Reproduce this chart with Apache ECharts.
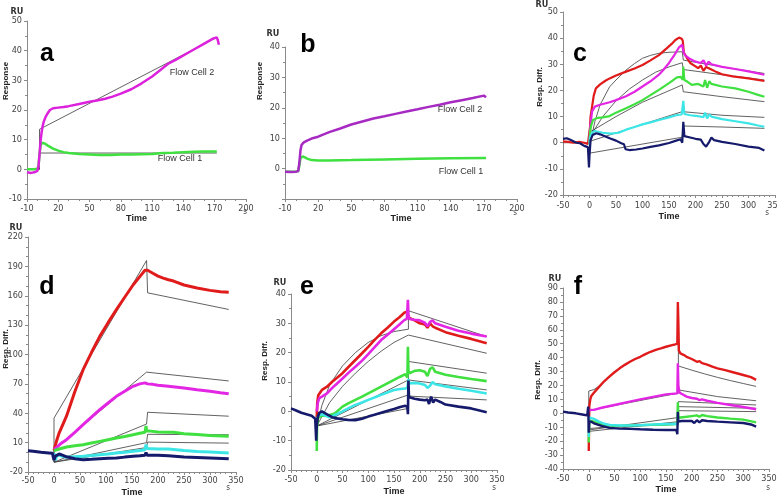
<!DOCTYPE html>
<html>
<head>
<meta charset="utf-8">
<script src="https://cdn.jsdelivr.net/npm/echarts@6/dist/echarts.min.js"></script>
<style>
  html, body { margin: 0; background: #fff; }
  #chart { width: 778px; height: 497px; }
</style>
</head>
<body>
<div id="chart"></div>
<script>
// ---- panel a : flow cells ----
const aCell2 = [[-10,-1],[-6,-1.2],[-3,-1],[0,-0.5],[1,1],[2,5],[3,9.5],[4,12.5],[5,14.5],[6,16],[8,17.8],[10,19],[12,20],[15,20.6],[20,20.8],[25,21],[30,21.3],[40,22],[50,22.8],[57,23.2],[65,23.8],[72,24.5],[80,25.5],[90,27],[100,29],[110,31.3],[117,33.2],[125,35.5],[133,37],[142,38.8],[150,40.4],[160,42.4],[168,44],[172,44.5],[173,43.5],[174,42]];
const aCell1 = [[-10,0],[-3,0],[0,0.2],[1,1],[2,5],[3,8],[4,9],[5,9],[7,8.7],[10,8],[15,7],[20,6.3],[25,5.8],[30,5.5],[40,5.2],[50,5],[60,4.8],[70,4.8],[80,5],[90,5],[100,5.1],[110,5.2],[120,5.5],[130,5.6],[140,5.8],[150,5.9],[160,6],[172,6]];
const aFit2 = [[-10,0],[2,0],[2,13.5],[172,44.5]];
const aFit1 = [[2,0],[2,5.5],[172,5.5]];

// ---- panel b : flow cells ----
const bCell2 = [[-10,-1],[-5,-1.1],[0,-1],[2,-0.8],[3,2],[4,6],[5,7.8],[7,8.6],[10,9.2],[15,10],[20,10.5],[30,12],[40,13.2],[50,14.5],[60,15.5],[70,16.5],[80,17.2],[90,18],[100,18.8],[110,19.5],[120,20.3],[130,21],[140,21.8],[150,22.5],[160,23.2],[170,24],[172,23.5]];
const bCell1 = [[-10,-1],[0,-1],[2,-0.8],[3,1],[4,3.5],[6,4],[8,3.7],[10,3.3],[14,2.8],[20,2.7],[30,2.7],[50,2.8],[80,3],[110,3.2],[140,3.4],[172,3.5]];

// ---- panel c ----
const cRed = [[-50,0.5],[-40,0.3],[-30,0],[-20,0.3],[-10,0],[-3,-0.5],[0,0],[1,6],[2,10],[5,14],[8,18],[12,20.8],[20,22.3],[30,23.7],[38,24.6],[50,25.7],[69,27.2],[85,28.4],[100,29.7],[115,31.5],[131,33.5],[145,36],[155,37.8],[162,39.3],[169,40.2],[174,39.8],[176,39],[178,34.5],[185,32],[190,30.5],[200,29.2],[205,28.5],[210,29.5],[215,27.5],[220,29],[225,28.5],[230,28],[240,27],[250,26.2],[270,25.4],[300,24.6],[330,23.6]];
const cMagenta = [[0,0],[1,5],[3,9],[5,12],[10,13.8],[20,14.5],[38,15.5],[50,16.3],[69,17.8],[85,19.5],[100,21.5],[115,23.5],[131,26],[140,28],[150,30.5],[160,33.5],[169,36.5],[175,37.5],[177,35],[180,33.5],[190,32],[200,31],[210,30.5],[215,31.5],[220,29.5],[225,31],[230,30],[250,29],[275,28.2],[300,27.3],[330,26]];
const cGreen = [[0,0],[1,4],[3,6.5],[6.6,8.7],[15,9.5],[25,9.7],[38,10.2],[50,11.5],[69,13.2],[85,14.7],[100,16.3],[115,18.2],[131,20.2],[150,22.8],[165,25],[172,25.2],[176,24],[177,29],[179,24],[185,23.3],[193,22.1],[205,22.5],[215,21.5],[218,24],[222,21],[226,23.5],[230,22.5],[250,21.5],[275,20.8],[300,19.5],[318,18.3],[330,17.6]];
const cCyan = [[0,-1],[1,2],[4,3.5],[10,4.5],[25,3.8],[40,3.5],[55,3.8],[69,5],[85,6],[100,7],[115,7.8],[131,8.7],[150,9.7],[165,10.6],[174,10.8],[176,11],[177,16],[179,11],[190,10.5],[200,10.3],[215,9.8],[218,11.5],[222,9.3],[226,10.8],[230,10],[250,9],[275,8.2],[300,7.4],[318,6.6],[330,6.1]];
const cNavy = [[-50,1.5],[-43,1.7],[-35,1],[-25,0],[-18,-0.2],[-10,-1.2],[-3,-1.7],[-1,-9.5],[0,-5],[2,1],[6,3],[13,3.6],[20,3.2],[30,2.4],[38,1.7],[50,0.8],[60,-0.2],[65,-0.6],[68,-2.5],[75,-2.8],[88,-2.6],[100,-2.2],[115,-1.6],[131,-1],[150,-0.1],[165,0.9],[172,1.3],[175,0],[177,8],[179,2.5],[190,2],[200,1.5],[210,1.2],[215,-0.5],[220,-1.5],[225,0],[230,2],[235,1],[250,0.3],[275,-0.5],[300,-1.5],[320,-2],[330,-3]];
const cFit1 = [[-50,0],[0,0],[0,-1.5],[10,8],[20,14.5],[38,21.4],[50,24],[69,27.8],[85,30.3],[100,32.3],[115,33.4],[131,34.2],[150,34.6],[175,34.8],[177,31.6],[250,29],[330,26.5]];
const cFit2 = [[0,2],[25,10],[50,16],[75,20.5],[100,24],[125,27],[150,29],[175,30.6],[177,28],[250,26],[330,24]];
const cFit3 = [[0,4],[50,10],[100,15.5],[175,22.1],[177,19.5],[250,17.6],[330,15.7]];
const cFit4 = [[0,0.5],[175,11.9],[177,11.2],[250,10.5],[330,9.7]];
const cFit5 = [[0,-4],[175,2.1],[177,6.4],[250,6],[330,5.5]];

// ---- panel d ----
const dRed = [[0,2],[2,6],[5,12],[10,20],[24,37],[40,62],[56,84.5],[72,102],[88,118.5],[104,132.5],[120,145.8],[136,158.5],[152,171],[165,179.5],[175,186],[178,187],[180,186],[190,183],[200,180],[210,178],[220,176.4],[230,175],[250,171],[275,168],[300,165.5],[320,164],[336,163.5]];
const dMagenta = [[0,3],[5,5],[12,8.5],[24,13],[40,20.5],[56,28.3],[72,36],[88,43.6],[104,50.5],[120,57.3],[136,62.5],[152,67.5],[165,70],[175,71],[180,70],[190,69.5],[200,68.5],[220,67.5],[250,65.8],[275,64],[300,62.4],[320,61],[336,60]];
const dGreen = [[0,1.8],[10,3.5],[24,5.5],[40,6.8],[56,7.9],[72,9.6],[88,11.3],[104,13],[120,14.7],[136,16.3],[152,18],[165,19.5],[175,20.5],[177,27],[178,22],[182,22],[200,20.8],[220,20.5],[230,20.5],[250,19],[275,18.2],[300,17.4],[336,16.4]];
const dCyan = [[0,-1],[3,-8],[5,-3],[10,-3],[24,-5],[40,-4.5],[56,-4],[72,-3.2],[88,-2.3],[104,-1.5],[120,-0.6],[136,0.2],[152,1.1],[165,2],[175,2.8],[177,8],[179,4],[200,3.5],[220,3.5],[250,2],[275,1],[300,0.4],[336,-0.6]];
const dNavy = [[-50,1.8],[-40,1.2],[-25,0.1],[-10,-0.5],[-3,-0.9],[-1,-1],[0,-8],[2,-4],[5,-2],[10,-1.6],[15,-2.5],[24,-4.5],[40,-6.5],[56,-7.4],[72,-7],[88,-6.4],[104,-6],[120,-5.7],[136,-4.8],[152,-4],[165,-3.5],[175,-3],[177,0],[179,-3],[190,-2.8],[200,-3],[220,-3.5],[250,-4.7],[275,-5.2],[300,-5.7],[336,-6.4]];
const dFit1 = [[0,-10],[0,35],[178,196],[180,163],[336,146]];
const dFit2 = [[0,-10],[0,3],[178,82],[336,73]];
const dFit3 = [[0,-10],[178,29],[180,41],[336,37]];
const dFit4 = [[0,-10],[178,10],[180,18.5],[336,18]];
const dFit5 = [[0,-10],[178,5],[180,10.5],[336,9.5]];

// ---- panel e ----
const eRed = [[0,-2],[1,3],[3,5.5],[10,7.3],[20,8.4],[30,10.1],[40,11.5],[50,13],[62,15.2],[75,17.5],[88,19.8],[100,22],[112,24.3],[125,26.6],[138,28.6],[150,30.6],[160,32],[170,33.6],[175,34],[178,32],[180,31.5],[190,31],[200,30],[210,29.6],[215,28.5],[220,30],[225,29],[230,28.5],[250,27],[275,25.8],[300,24.7],[330,23.2]];
const eMagenta = [[0,0],[2,3],[5,4.5],[10,5],[20,6.1],[30,8],[40,9.6],[50,11.2],[62,13.2],[75,15.2],[88,17.3],[100,19.5],[112,21.8],[125,24.3],[138,26.2],[150,28],[160,29.5],[170,31.1],[175,31.5],[177,38],[178,33],[180,31.5],[190,31.2],[200,31],[210,30.2],[215,29],[220,30.5],[225,31],[230,30],[250,28.8],[275,27.5],[300,26.5],[330,25.5]];
const eGreen = [[0,-13.5],[0.5,-5],[3,-2],[10,-1.5],[20,-1.5],[35,-0.7],[50,1.6],[62,2.8],[75,3.9],[88,5],[100,6.1],[112,7.2],[125,8.4],[138,9.6],[150,10.7],[162,11.8],[172,12.7],[176,11.5],[177,22],[178,14],[180,13],[190,13.8],[200,14],[210,13.5],[215,12],[220,14.5],[225,15],[230,13.5],[250,12.5],[275,11.7],[300,11],[330,10.3]];
const eCyan = [[0,-3],[3,-1.5],[10,-1],[25,-2],[40,-0.9],[50,0],[62,1.1],[75,2.2],[88,3],[100,3.9],[112,4.7],[125,5.6],[138,6.5],[150,7.3],[162,7.6],[172,7.8],[176,8],[178,11],[180,9.5],[190,9.7],[200,9.5],[210,9],[215,8],[220,8.7],[225,10],[230,9.2],[250,8.5],[275,7.7],[300,7],[330,6.1]];
const eNavy = [[-50,1],[-40,0.3],[-30,-0.5],[-20,-1],[-10,-1.5],[-3,-2.5],[-1,-10],[0,-5],[2,-2],[5,-0.5],[10,0],[20,-1],[30,-2],[40,-2.4],[50,-2.7],[60,-2.9],[75,-3],[88,-2.5],[100,-1.8],[112,-1.2],[125,-0.5],[138,0.2],[150,0.8],[162,1.5],[172,1.9],[176,1.5],[177,-1],[178,10.5],[179,5.5],[180,4.8],[190,4.3],[200,4],[210,3.8],[215,4],[218,2.5],[222,5],[226,3],[230,4],[240,3.2],[250,2.3],[275,1.6],[300,1],[330,-0.3]];
const eFit1 = [[0,-5],[10,2],[25,9],[50,15.5],[75,20],[100,23.5],[125,25.8],[150,27.2],[178,28],[178,34.3],[330,25.5]];
const eFit2 = [[0,-5],[25,3],[50,8.5],[75,13],[100,17],[125,20.5],[150,23.5],[178,26],[330,19.8]];
const eFit3 = [[0,-5],[178,10.7],[178,17],[330,13]];
const eFit4 = [[0,-5],[178,5.6],[178,10.7],[330,7.3]];
const eFit5 = [[0,-5],[178,1],[178,5.2],[330,3.9]];

// ---- panel f ----
const fRed = [[0,-27],[1,5],[3,10],[5,12.5],[10,14.8],[20,19],[30,23],[40,26.3],[50,29.5],[60,32.3],[70,34.8],[80,37],[90,39],[100,40.6],[110,42.5],[120,44.2],[130,45.5],[140,46.6],[150,47.8],[160,48.8],[168,49.5],[172,50],[173,80],[174,65],[175,45],[178,43],[184,42],[190,40.6],[200,39],[210,37],[215,37.5],[220,36],[230,35],[240,33.5],[250,32.3],[265,31],[280,29.5],[300,27.5],[315,26],[325,24]];
const fMagenta = [[0,2],[5,2.5],[10,2.5],[25,4],[50,6],[75,8],[100,10],[125,11.8],[150,13.6],[172,14.3],[173,36],[174,20],[176,15],[180,14],[190,12],[200,11],[210,10.5],[215,9.5],[220,10],[230,9],[250,7.5],[275,6],[300,4.5],[325,2.9]];
const fGreen = [[0,-21],[1,-5],[5,-5.5],[10,-6],[25,-8],[50,-9],[100,-8.5],[150,-8],[172,-7.5],[173,8],[174,-3],[178,-3],[190,-2.5],[200,-2],[210,-1.5],[215,-2.5],[220,-1.2],[230,-2],[250,-3],[275,-3.8],[300,-4.5],[325,-6.5]];
const fCyan = [[0,-17],[1,-3],[5,-3.5],[10,-4],[20,-6],[30,-7.5],[41,-8.4],[60,-8.8],[73,-8.8],[90,-8.6],[105,-8.4],[120,-8.1],[138,-7.9],[155,-7.7],[170,-7.6],[172,-8]];
const fNavy = [[-50,1.2],[-40,0.6],[-25,0],[-10,-1],[-3,-1.5],[-1,4.8],[0,-14],[1,-6],[5,-6],[10,-7.2],[25,-9],[40,-10.5],[60,-11],[80,-11.2],[100,-11.5],[125,-11.8],[150,-12],[170,-12],[172,-15],[173,1],[174,-6],[180,-5.5],[190,-5.5],[200,-5.5],[205,-7],[210,-5],[215,-6.5],[220,-5],[230,-5.5],[250,-6],[275,-6.5],[300,-7],[315,-8],[325,-9.6]];
const fFit1 = [[0,-10],[0,16],[10,17],[20,19.5],[30,23],[40,26.3],[60,32.3],[80,37],[100,40.6],[120,44.2],[140,46.6],[174,50],[174,34],[200,31],[225,28.3],[250,25.8],[275,23.5],[300,21.4],[325,19.3]];
const fFit2 = [[0,-10],[0,2],[174,14.5],[174,16.8],[250,12],[325,9]];
const fFit3 = [[0,-12],[174,-3],[174,8.4],[325,6]];
const fFit4 = [[0,-13],[174,-6],[174,4.8],[325,3.6]];
const fFit5 = [[0,-11],[30,-10],[174,-8],[174,1.9],[325,1.2]];

const RED = "#e01b1b", MAG = "#e326e3", GRN = "#3fe03f", CYN = "#3de6e6", NAVY = "#161a6b", FIT = "#3a3a3a";
const NARROW = "'Liberation Sans Narrow','DejaVu Sans Condensed',sans-serif";

// grid boxes and axis scales per panel: [min, max, interval, minor splits]
const panels = [
  { box: [27, 21, 219, 178],  x: [-10, 200, 30, 3], y: [-10, 50, 10, 2], lm: 5, gap: 14.5 },
  { box: [285, 47, 232, 152], x: [-10, 200, 30, 3], y: [-10, 40, 10, 2], lm: 5, gap: 14.5, hideMin: true },
  { box: [563, 12, 212, 183], x: [-50, 350, 50, 5], y: [-20, 50, 10, 2], lm: 6, gap: 17.5 },
  { box: [28, 237, 208, 235], x: [-50, 350, 50, 5], y: [-20, 220, 30, 3], lm: 4, gap: 16.5 },
  { box: [291, 294, 206, 176], x: [-50, 350, 50, 5], y: [-20, 40, 10, 2], lm: 5, gap: 17 },
  { box: [563, 288, 206, 181], x: [-50, 350, 50, 5], y: [-40, 90, 10, 2], lm: 5, gap: 16.5 }
];

const axisBase = {
  axisLine: { onZero: false, lineStyle: { color: "#8a8a8a", width: 1 } },
  axisTick: { length: 3, lineStyle: { color: "#8a8a8a" } },
  splitLine: { show: false },
  axisLabel: { color: "#444", fontSize: 9, fontFamily: NARROW }
};

const grid = panels.map(p => ({
  left: p.box[0], top: p.box[1], width: p.box[2], height: p.box[3],
  outerBoundsMode: "none", containLabel: false
}));

const xAxis = panels.map((p, i) => ({
  type: "value", gridIndex: i, min: p.x[0], max: p.x[1], interval: p.x[2],
  ...axisBase,
  minorTick: { show: true, splitNumber: p.x[3], length: 2, lineStyle: { color: "#8a8a8a" } },
  axisLabel: { ...axisBase.axisLabel, margin: p.lm },
  name: "Time", nameLocation: "middle", nameGap: p.gap,
  nameTextStyle: { fontSize: 9, fontWeight: "bold", color: "#222", fontFamily: "'Liberation Sans',Arial,sans-serif" }
}));

const yAxis = panels.map((p, i) => ({
  type: "value", gridIndex: i, min: p.y[0], max: p.y[1], interval: p.y[2],
  ...axisBase,
  minorTick: { show: true, splitNumber: p.y[3], length: 2, lineStyle: { color: "#8a8a8a" } },
  axisLabel: { ...axisBase.axisLabel, margin: 5, showMinLabel: !p.hideMin }
}));

function trace(data, color, i, width) {
  return {
    type: "line", data: data, xAxisIndex: i, yAxisIndex: i,
    showSymbol: false, smooth: false, silent: true,
    lineStyle: { color: color, width: width }
  };
}
function fit(data, i) {
  return trace(data, FIT, i, 0.8);
}

const series = [
  fit(aFit1, 0), fit(aFit2, 0),
  trace(aCell1, GRN, 0, 2.5), trace(aCell2, "#dc22dc", 0, 2.5),
  trace(bCell1, GRN, 1, 2.5), trace(bCell2, "#a72bc2", 1, 2.5),
  fit(cFit1, 2), fit(cFit2, 2), fit(cFit3, 2), fit(cFit4, 2), fit(cFit5, 2),
  trace(cRed, RED, 2, 2.2), trace(cMagenta, MAG, 2, 2.2), trace(cGreen, GRN, 2, 2.2),
  trace(cCyan, CYN, 2, 2.2), trace(cNavy, NAVY, 2, 2.2),
  fit(dFit1, 3), fit(dFit2, 3), fit(dFit3, 3), fit(dFit4, 3), fit(dFit5, 3),
  trace(dRed, RED, 3, 3), trace(dMagenta, MAG, 3, 3), trace(dGreen, GRN, 3, 3),
  trace(dCyan, CYN, 3, 3), trace(dNavy, NAVY, 3, 3),
  fit(eFit1, 4), fit(eFit2, 4), fit(eFit3, 4), fit(eFit4, 4), fit(eFit5, 4),
  trace(eRed, RED, 4, 2.6), trace(eMagenta, MAG, 4, 2.6), trace(eGreen, GRN, 4, 2.6),
  trace(eCyan, CYN, 4, 2.6), trace(eNavy, NAVY, 4, 2.6),
  fit(fFit1, 5), fit(fFit2, 5), fit(fFit3, 5), fit(fFit4, 5), fit(fFit5, 5),
  trace(fRed, RED, 5, 2.4), trace(fMagenta, MAG, 5, 2.4), trace(fGreen, GRN, 5, 2.4),
  trace(fCyan, CYN, 5, 2.4), trace(fNavy, NAVY, 5, 2.4)
];

// panel letters, unit labels and axis titles
const letters = [["a", 47, 42], ["b", 308, 33], ["c", 580, 42], ["d", 47, 275], ["e", 307, 275], ["f", 578, 275]];
const ruPos = [[17, 12], [273, 34], [542, 5], [16, 228], [280, 283], [555, 279]];
const secPos = [[245, 212], [515, 213], [767, 213], [228, 488], [494, 488], [768, 488]];
const yTitles = [["Response", 6, 81], ["Response", 260, 81], ["Resp. Diff.", 540, 87], ["Resp. Diff.", 6, 349], ["Resp. Diff.", 265, 361], ["Resp. Diff.", 538, 380]];
const cellLabels = [["Flow Cell 2", 192, 73], ["Flow Cell 1", 180, 159], ["Flow Cell 2", 460, 110], ["Flow Cell 1", 461, 172]];

const graphic = [];
letters.forEach(([t, x, y]) => graphic.push({
  type: "text", x: x, y: y, silent: true,
  style: { text: t, fill: "#000", font: "bold 25px 'Liberation Sans',Arial,sans-serif", textAlign: "center", textVerticalAlign: "alphabetic" }
}));
ruPos.forEach(([x, y]) => graphic.push({
  type: "text", x: x, y: y, silent: true,
  style: { text: "RU", fill: "#333", font: "bold 9px " + NARROW, textAlign: "center", textVerticalAlign: "middle" }
}));
secPos.forEach(([x, y]) => graphic.push({
  type: "text", x: x, y: y, silent: true,
  style: { text: "s", fill: "#444", font: "8px " + NARROW, textAlign: "center", textVerticalAlign: "middle" }
}));
yTitles.forEach(([t, x, y]) => graphic.push({
  type: "text", x: x, y: y, rotation: Math.PI / 2, silent: true,
  style: { text: t, fill: "#222", font: "bold 8px 'Liberation Sans',Arial,sans-serif", textAlign: "center", textVerticalAlign: "middle" }
}));
cellLabels.forEach(([t, x, y]) => graphic.push({
  type: "text", x: x, y: y, silent: true,
  style: { text: t, fill: "#333", font: "9px 'Liberation Sans',Arial,sans-serif", textAlign: "center", textVerticalAlign: "middle" }
}));

const chart = echarts.init(document.getElementById("chart"), null, { renderer: "canvas" });
chart.setOption({
  animation: false,
  backgroundColor: "#fff",
  grid: grid,
  xAxis: xAxis,
  yAxis: yAxis,
  series: series,
  graphic: graphic
});
</script>
</body>
</html>
